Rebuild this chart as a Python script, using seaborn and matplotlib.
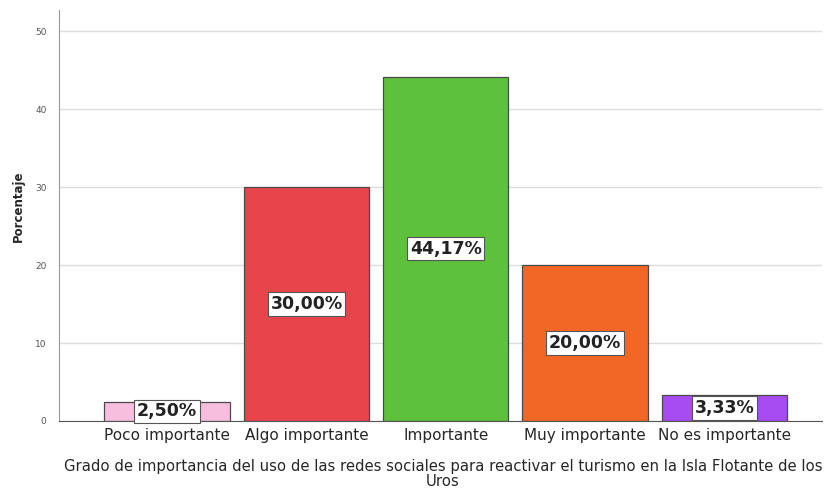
import matplotlib
matplotlib.use("Agg")
import matplotlib.pyplot as plt
import seaborn as sns
import pandas as pd

categories = ["Poco importante", "Algo importante", "Importante", "Muy importante", "No es importante"]
values = [2.50, 30.00, 44.17, 20.00, 3.33]
labels = ["2,50%", "30,00%", "44,17%", "20,00%", "3,33%"]
colors = ["#F7BEDD", "#E8444B", "#5EC13B", "#F26626", "#A64CF0"]
yticks = [0, 10, 20, 30, 40, 50]

sns.set_style("white")
plt.rcParams['font.family'] = ['DejaVu Sans']

df = pd.DataFrame({"cat": categories, "val": values})

fig = plt.figure(figsize=(8.24, 5.01), dpi=100)
ax = fig.add_axes([59/824, 80/501, (822-59)/824, 411/501])

sns.barplot(data=df, x="cat", y="val", hue="cat", palette=colors, order=categories,
            hue_order=categories, dodge=False, legend=False, width=0.9,
            edgecolor="#4A4A4A", linewidth=0.9, saturation=1, ax=ax, zorder=2)

ax.set_xlim(-0.776, 4.70)
ax.set_ylim(0, 52.7)
ax.set_yticks(yticks)
ax.set_yticklabels([str(t) for t in yticks], fontsize=6.5, color="#555555")
ax.yaxis.grid(True, color="#DDDDDD", linewidth=1, zorder=0)
ax.set_axisbelow(True)
for s in ["top", "right"]:
    ax.spines[s].set_visible(False)
ax.spines["left"].set_color("#999999")
ax.spines["bottom"].set_color("#555555")
ax.tick_params(axis="y", length=3, color="#999999", pad=6)
ax.tick_params(axis="x", length=0, labelsize=11, pad=5)

for i, (v, lab) in enumerate(zip(values, labels)):
    ax.text(i, v / 2, lab, ha="center", va="center", fontsize=12.5, fontweight="bold",
            color="#222222",
            bbox=dict(boxstyle="square,pad=0.15", facecolor="white", edgecolor="#555555", linewidth=0.8),
            zorder=5)

ax.set_xlabel("Grado de importancia del uso de las redes sociales para reactivar el turismo en la Isla Flotante de los\nUros",
              fontsize=10.7, linespacing=0.95)
ax.xaxis.set_label_coords((443 - 59) / 763, -(474 - 421) / 411)
ax.xaxis.label.set_va("center")
ax.set_ylabel("Porcentaje", fontsize=8.5, fontweight="bold")
ax.yaxis.set_label_coords(-(59 - 18) / 763, (421 - 206) / 411)
ax.yaxis.label.set_va("center")

fig.savefig("out.png", dpi=100)
